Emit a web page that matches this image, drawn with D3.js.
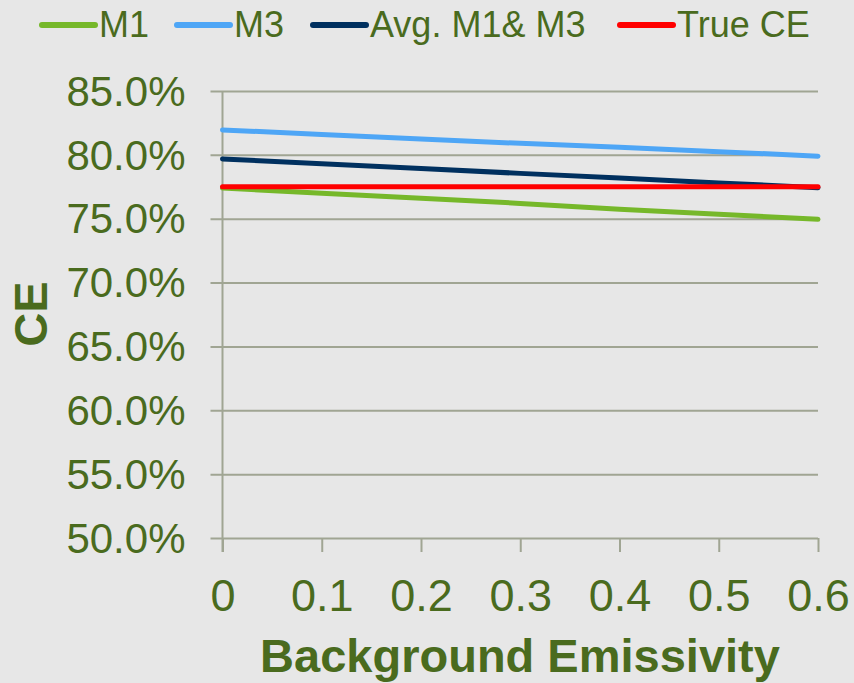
<!DOCTYPE html>
<html>
<head>
<meta charset="utf-8">
<script src="https://cdn.jsdelivr.net/npm/d3@7"></script>
<style>
  html, body { margin: 0; padding: 0; background: #e7e7e7; }
  svg { display: block; }
  text { font-family: "Liberation Sans", Arial, sans-serif; fill: #4a6b1e; }
</style>
</head>
<body>
<svg id="chart" width="854" height="683"></svg>
<script>
// Background emissivity values (x) and conversion-efficiency estimates (%)
const emissivity = [0, 0.1, 0.2, 0.3, 0.4, 0.5, 0.6];
const m1   = [77.4, 77.0, 76.6, 76.2, 75.75, 75.35, 74.95];
const m3   = [81.95, 81.6, 81.25, 80.9, 80.6, 80.25, 79.9];
const avg  = [79.68, 79.3, 78.93, 78.55, 78.18, 77.8, 77.43];
const trueCE = [77.5, 77.5, 77.5, 77.5, 77.5, 77.5, 77.5];

const seriesNames  = ["M1", "M3", "Avg. M1& M3", "True CE"];
const seriesColors = ["#76b82a", "#4ea6f6", "#00305f", "#ff0000"];
const seriesValues = [m1, m3, avg, trueCE];

const yTicks = [50, 55, 60, 65, 70, 75, 80, 85];
const xTicks = [0, 0.1, 0.2, 0.3, 0.4, 0.5, 0.6];

const svg = d3.select("#chart");
const gridColor = "#a0a593";
const textColor = "#4a6b1e";

const x = d3.scaleLinear().domain([0, 0.6]).range([222.5, 818]);
const y = d3.scaleLinear().domain([50, 85]).range([538, 91]);
const plotW = x.range()[1] - x.range()[0];

// Horizontal gridlines with short outward ticks on the left
const yAxis = d3.axisLeft(y)
  .tickValues(yTicks)
  .tickSize(0)
  .tickFormat(d => d.toFixed(1) + "%");

const gy = svg.append("g")
  .attr("transform", `translate(${x.range()[1]},0)`)
  .call(yAxis);
gy.select(".domain").remove();
gy.selectAll(".tick line")
  .attr("stroke", gridColor).attr("stroke-width", 2)
  .attr("x1", 0).attr("x2", -plotW - 12);
gy.selectAll(".tick text")
  .attr("x", -plotW - 37)
  .attr("dy", "0.34em")
  .style("font-size", "42px")
  .attr("fill", textColor);

// Vertical axis line
svg.append("line")
  .attr("x1", x(0)).attr("x2", x(0))
  .attr("y1", y(85)).attr("y2", y(50) + 14)
  .attr("stroke", gridColor).attr("stroke-width", 2);

// Bottom axis: tick marks below the 50% line and labels
const xAxis = d3.axisBottom(x)
  .tickValues(xTicks)
  .tickSize(14)
  .tickPadding(27)
  .tickFormat(d => d === 0 ? "0" : d3.format(".1f")(d));

const gx = svg.append("g")
  .attr("transform", `translate(0,${y(50)})`)
  .call(xAxis);
gx.select(".domain").remove();
gx.selectAll(".tick line").attr("stroke", gridColor).attr("stroke-width", 2);
gx.selectAll(".tick text")
  .style("font-size", "45px")
  .attr("fill", textColor);

// Series lines
const line = d3.line()
  .x((d, i) => x(emissivity[i]))
  .y(d => y(d));

seriesValues.forEach((vals, k) => {
  svg.append("path")
    .datum(vals)
    .attr("d", line)
    .attr("fill", "none")
    .attr("stroke", seriesColors[k])
    .attr("stroke-width", 5)
    .attr("stroke-linecap", "round")
    .attr("stroke-linejoin", "round");
});

// Axis titles
svg.append("text")
  .attr("x", 520).attr("y", 672)
  .attr("text-anchor", "middle")
  .style("font-size", "47px").style("font-weight", "bold")
  .text("Background Emissivity");

svg.append("text")
  .attr("transform", "translate(47,314) rotate(-90)")
  .attr("text-anchor", "middle")
  .style("font-size", "47px").style("font-weight", "bold")
  .text("CE");

// Legend
const legendX = [42, 177, 313, 620];
seriesNames.forEach((name, k) => {
  const g = svg.append("g").attr("transform", `translate(${legendX[k]},0)`);
  g.append("line")
    .attr("x1", 0).attr("x2", 53)
    .attr("y1", 25).attr("y2", 25)
    .attr("stroke", seriesColors[k])
    .attr("stroke-width", 6)
    .attr("stroke-linecap", "round");
  g.append("text")
    .attr("x", 57).attr("y", 37)
    .style("font-size", "36px")
    .text(name);
});
</script>
</body>
</html>
